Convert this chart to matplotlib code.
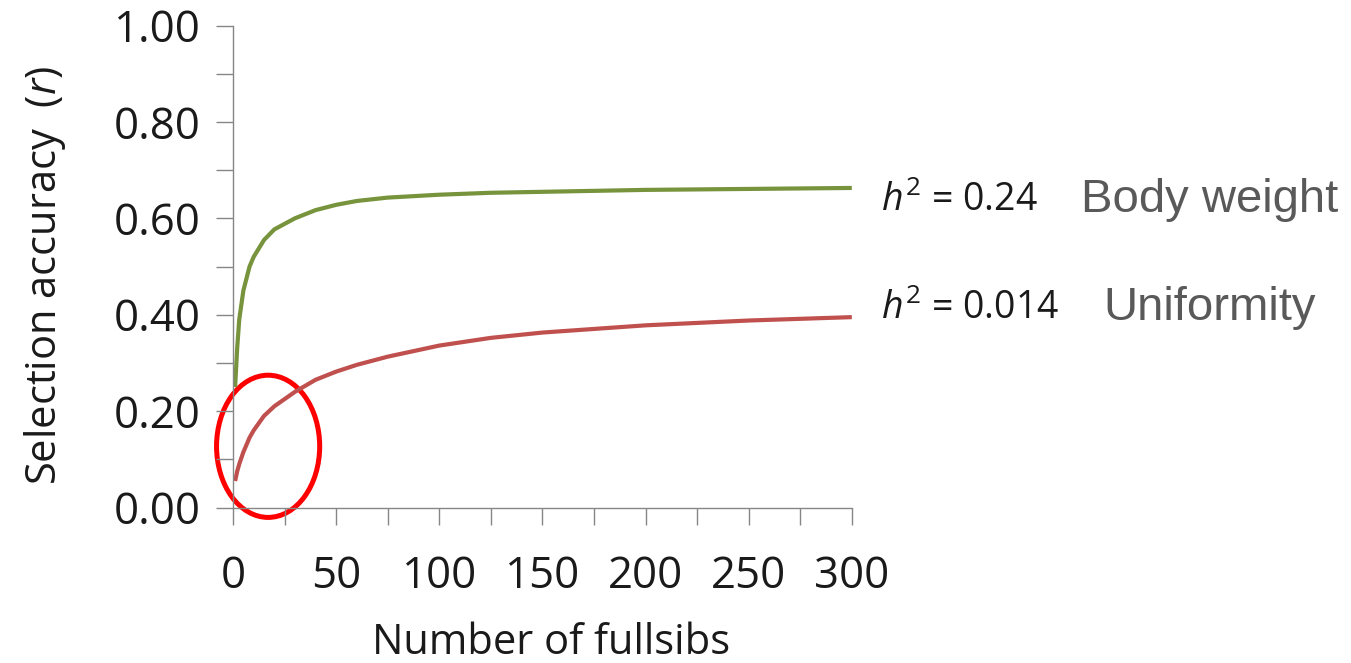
"""
Selection accuracy versus number of fullsibs for two traits with
different heritability (body weight and uniformity).
"""

import matplotlib
matplotlib.use("Agg")
import matplotlib.pyplot as plt
from matplotlib.patches import Ellipse
from matplotlib.ticker import MultipleLocator, FormatStrFormatter

# Values.
n_fullsibs = [1, 2, 3, 5, 8, 10, 15, 20, 30, 40, 50, 60, 75, 100, 125, 150, 200, 250, 300]
r_body_weight = [0.25, 0.33, 0.39, 0.45, 0.50, 0.52, 0.555, 0.577, 0.600, 0.617, 0.628,
                 0.636, 0.643, 0.649, 0.653, 0.655, 0.659, 0.661, 0.663]
r_uniformity = [0.055, 0.075, 0.09, 0.115, 0.145, 0.16, 0.19, 0.21, 0.24, 0.265, 0.282,
                0.296, 0.313, 0.336, 0.352, 0.363, 0.378, 0.388, 0.395]

h2_labels = ["0.24", "0.014"]
trait_names = ["Body weight", "Uniformity"]

plt.rcParams["font.family"] = ["Open Sans", "DejaVu Sans"]
plt.rcParams["mathtext.fontset"] = "custom"
plt.rcParams["mathtext.rm"] = "Open Sans"
plt.rcParams["mathtext.it"] = "Open Sans:italic"


def main():
    fig = plt.figure(figsize=(13.51, 6.63), dpi=100)
    ax = fig.add_axes([0.1725, 0.2345, 0.458, 0.727])

    axis_grey = "#868686"
    ax.plot(n_fullsibs, r_body_weight, color="#77933C", lw=3.0, solid_capstyle="butt")
    ax.plot(n_fullsibs, r_uniformity, color="#C0504D", lw=3.0, solid_capstyle="butt")

    ax.set_xlim(0, 300)
    ax.set_ylim(0, 1)
    ax.xaxis.set_major_locator(MultipleLocator(50))
    ax.xaxis.set_minor_locator(MultipleLocator(25))
    ax.yaxis.set_major_locator(MultipleLocator(0.2))
    ax.yaxis.set_minor_locator(MultipleLocator(0.1))
    ax.yaxis.set_major_formatter(FormatStrFormatter("%.2f"))

    for side in ["top", "right"]:
        ax.spines[side].set_visible(False)
    for side in ["left", "bottom"]:
        ax.spines[side].set_color(axis_grey)
        ax.spines[side].set_linewidth(1.0)

    ax.tick_params(which="both", length=12.5, width=1.0, color=axis_grey,
                   labelsize=31.5, labelcolor="#1a1a1a")
    ax.tick_params(axis="y", which="major", pad=11)
    ax.tick_params(axis="x", which="major", pad=21)

    ax.set_xlabel("Number of fullsibs", fontsize=30, color="#1a1a1a")
    ax.set_ylabel(r"Selection accuracy  ($r$)", fontsize=30, color="#1a1a1a")
    ax.xaxis.set_label_coords(0.514, -0.237)
    ax.yaxis.set_label_coords(-0.266, 0.482)

    # Red circle highlighting the low-fullsib region of the uniformity curve.
    ax.add_patch(Ellipse((17, 0.127), 50, 0.295, fill=False, edgecolor="#FF0000",
                         lw=3.6, clip_on=False))

    # Curve annotations to the right of the plot.
    for h2, y in zip(h2_labels, [0.615, 0.391]):
        ax.text(314, y, r"$h^2$ = " + h2, fontsize=27, color="#1a1a1a",
                va="baseline", ha="left", clip_on=False)
    ax.text(411, 0.613, trait_names[0], fontsize=34, color="#595959",
            family="Liberation Sans", va="baseline", ha="left")
    ax.text(422, 0.389, trait_names[1], fontsize=34, color="#595959",
            family="Liberation Sans", va="baseline", ha="left")

    fig.savefig("out.png", dpi=100)
    plt.close(fig)


if __name__ == "__main__":
    main()
